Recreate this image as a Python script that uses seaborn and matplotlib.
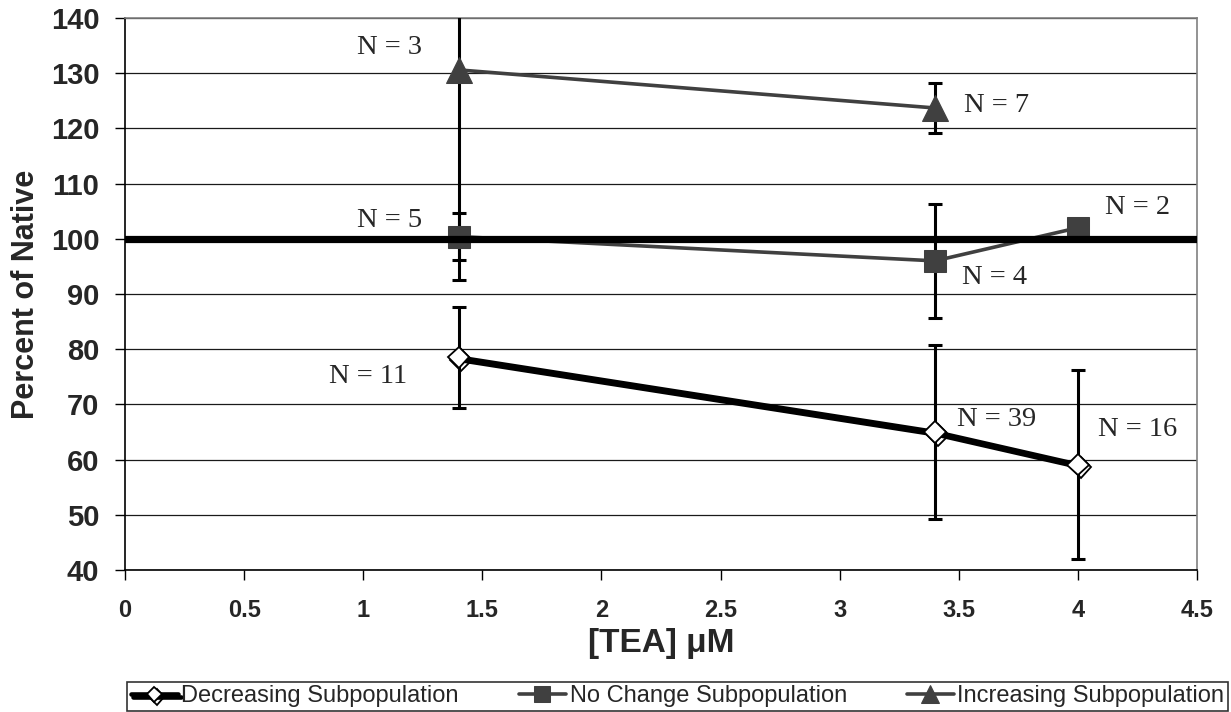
import numpy as np
import pandas as pd
import matplotlib
matplotlib.use("Agg")
import matplotlib.pyplot as plt
import matplotlib.patheffects as pe
import seaborn as sns

# ---------------- data ----------------
x_dec = [1.4, 3.4, 4.0]
y_dec = [78.5, 65.0, 59.1]
e_dec = [9.2, 15.8, 17.1]

x_nc = [1.4, 3.4, 4.0]
y_nc = [100.4, 96.0, 102.0]
e_nc = [4.3, 10.3, np.nan]

x_inc = [1.4, 3.4]
y_inc = [130.6, 123.7]
e_inc = [38.1, 4.6]

series_names = ["Decreasing Subpopulation", "No Change Subpopulation", "Increasing Subpopulation"]
n_labels = ["N = 11", "N = 39", "N = 16", "N = 5", "N = 4", "N = 2", "N = 3", "N = 7"]
n_label_x = [1.02, 3.66, 4.25, 1.11, 3.65, 4.25, 1.11, 3.66]
n_label_y = [75.0, 67.2, 65.4, 103.4, 92.9, 105.6, 134.6, 124.2]
reference_level = 100
x_ticks = [0, 0.5, 1, 1.5, 2, 2.5, 3, 3.5, 4, 4.5]
x_tick_labels = ["0", "0.5", "1", "1.5", "2", "2.5", "3", "3.5", "4", "4.5"]
y_ticks = [40, 50, 60, 70, 80, 90, 100, 110, 120, 130, 140]

# ---------------- style ----------------
sns.set_style("white")
plt.rcParams["font.family"] = ["Liberation Sans", "DejaVu Sans"]

W, H = 1231, 712
fig = plt.figure(figsize=(W / 100, H / 100), dpi=100)
ax = fig.add_axes([125 / W, 1 - 570 / H, (1197 - 125) / W, (570 - 18) / H])

df_dec = pd.DataFrame({"x": x_dec, "y": y_dec})
df_nc = pd.DataFrame({"x": x_nc, "y": y_nc})
df_inc = pd.DataFrame({"x": x_inc, "y": y_inc})

gray = "#404040"

# error bars (behind markers)
ebkw = dict(fmt="none", ecolor="black", elinewidth=2.2, capsize=5, capthick=2.2, zorder=3)
ax.errorbar(x_dec, y_dec, yerr=e_dec, **ebkw)
ax.errorbar(x_nc, y_nc, yerr=e_nc, **ebkw)
ax.errorbar(x_inc, y_inc, yerr=e_inc, **ebkw)

sns.lineplot(data=df_dec, x="x", y="y", ax=ax, sort=False, color="black", lw=3.3,
             marker="D", markersize=11, markerfacecolor="white", markeredgecolor="black",
             markeredgewidth=1.3, zorder=5, label=series_names[0],
             path_effects=[pe.SimpleLineShadow(offset=(2, -2), shadow_color="black", alpha=1.0), pe.Normal()])
sns.lineplot(data=df_nc, x="x", y="y", ax=ax, sort=False, color=gray, lw=2.6,
             marker="s", markersize=16, markerfacecolor=gray, markeredgecolor=gray,
             zorder=4, label=series_names[1])
sns.lineplot(data=df_inc, x="x", y="y", ax=ax, sort=False, color=gray, lw=2.6,
             marker="^", markersize=19, markerfacecolor=gray, markeredgecolor=gray,
             zorder=5, label=series_names[2])

# reference line at 100%
ax.axhline(reference_level, color="black", lw=5.2, zorder=4.5)

# N labels
for t, tx, ty in zip(n_labels, n_label_x, n_label_y):
    ax.text(tx, ty, t, ha="center", va="center", fontsize=20.5,
            family=["Liberation Serif", "DejaVu Serif"], zorder=7)

ax.set_xlim(0, 4.5)
ax.set_ylim(40, 140)
ax.set_xticks(x_ticks)
ax.set_xticklabels(x_tick_labels)
ax.set_yticks(y_ticks)
for lab in ax.get_xticklabels():
    lab.set_fontweight("bold")
    lab.set_fontsize(17)
for lab in ax.get_yticklabels():
    lab.set_fontweight("bold")
    lab.set_fontsize(21)
ax.tick_params(axis="x", direction="out", length=7, width=1, color="black", pad=14, bottom=True)
ax.tick_params(axis="y", direction="out", length=7, width=1, color="black", pad=11.5, left=True)

ax.yaxis.grid(True, color="#1a1a1a", lw=0.9, zorder=0)
ax.xaxis.grid(False)
ax.set_axisbelow(True)
for s in ["left", "bottom"]:
    ax.spines[s].set_color("black")
    ax.spines[s].set_linewidth(1.2)
for s in ["top", "right"]:
    ax.spines[s].set_color("#808080")
    ax.spines[s].set_linewidth(1.2)

ax.set_xlabel("[TEA] μM", fontsize=24, fontweight="bold", labelpad=4)
ax.set_ylabel("Percent of Native", fontsize=22, fontweight="bold", labelpad=7)

handles, labels = ax.get_legend_handles_labels()
ax.get_legend().remove()
leg = fig.legend(handles, labels, loc="lower left",
                 bbox_to_anchor=(127 / W, 1 / H, (1228 - 127) / W, 36 / H),
                 mode="expand", ncol=3, fontsize=17, frameon=True, fancybox=False,
                 edgecolor="black", handlelength=2.0, handletextpad=0.15,
                 borderpad=0.15, borderaxespad=0, markerscale=0.7)
leg.get_frame().set_linewidth(1.2)

fig.savefig("out.png", dpi=100)
